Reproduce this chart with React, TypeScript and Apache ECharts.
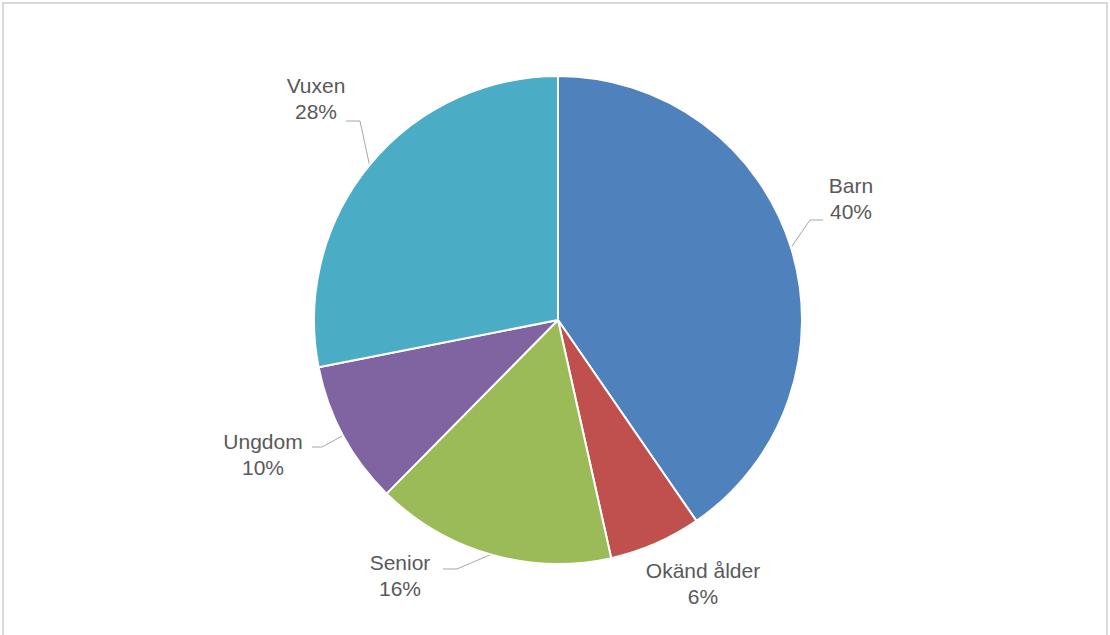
import React, { useEffect, useRef } from "react";
import * as echarts from "echarts";

const categories = ["Barn", "Okänd ålder", "Senior", "Ungdom", "Vuxen"];
const values = [40.4, 6.1, 15.9, 9.5, 28.1];
const percentLabels = ["40%", "6%", "16%", "10%", "28%"];
const colors = ["#4f81bd", "#c0504d", "#9bbb59", "#8064a2", "#4bacc6"];
const labelPos = [
  [851, 198],
  [703, 583],
  [400, 575],
  [263, 454],
  [316, 98],
];
// elbow and end points of each label line (start is taken from the pie)
const lineTail: (number[][] | null)[] = [
  [[810, 220], [823, 220]],
  null,
  [[457, 569], [443, 569]],
  [[322, 447], [312, 447]],
  [[360, 121], [346, 121]],
];

export default function App() {
  const ref = useRef<HTMLDivElement>(null);
  useEffect(() => {
    if (!ref.current) return;
    const chart = echarts.init(ref.current, undefined, { renderer: "svg" });
    chart.setOption({
      animation: false,
      backgroundColor: "#ffffff",
      series: [
        {
          type: "pie",
          center: [558, 320],
          radius: 244,
          startAngle: 90,
          clockwise: true,
          itemStyle: { borderColor: "#ffffff", borderWidth: 2 },
          label: {
            show: true,
            position: "outside",
            formatter: (p: any) => `${p.name}\n${percentLabels[p.dataIndex]}`,
            fontFamily: "Liberation Sans, Arial, sans-serif",
            fontSize: 21,
            lineHeight: 26,
            color: "#595959",
            align: "center",
          },
          labelLine: {
            show: true,
            length: 20,
            length2: 12,
            lineStyle: { color: "#a6a6a6", width: 1 },
          },
          labelLayout: (params: any) => {
            const i = params.dataIndex;
            const p = labelPos[i];
            const res: any = { x: p[0], y: p[1], align: "center", verticalAlign: "middle" };
            const tail = lineTail[i];
            if (tail && params.labelLinePoints && params.labelLinePoints[0]) {
              res.labelLinePoints = [params.labelLinePoints[0], tail[0], tail[1]];
            }
            return res;
          },
          emphasis: { disabled: true },
          data: categories.map((c, i) => ({
            name: c,
            value: values[i],
            itemStyle: { color: colors[i] },
            labelLine: { show: lineTail[i] !== null },
          })),
        },
      ],
    });
    return () => chart.dispose();
  }, []);
  return (
    <div style={{ position: "fixed", left: 0, top: 0, width: 1110, height: 635, background: "#fff" }}>
      <div ref={ref} style={{ position: "absolute", left: 0, top: 0, width: 1110, height: 635 }} />
      <div
        style={{
          position: "absolute",
          left: 2,
          top: 2,
          width: 1102,
          height: 640,
          border: "2px solid #d9d9d9",
          pointerEvents: "none",
        }}
      />
    </div>
  );
}
